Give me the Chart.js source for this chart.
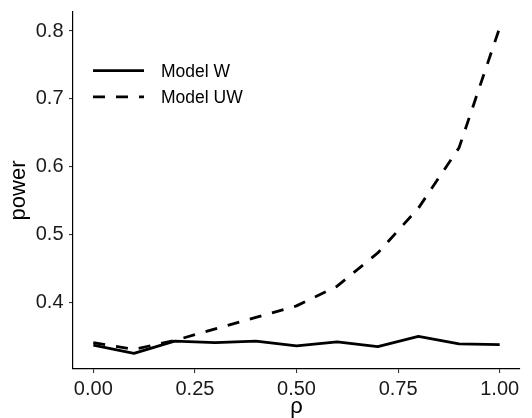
<!DOCTYPE html>
<html>
<head>
<meta charset="utf-8">
<script src="https://cdn.jsdelivr.net/npm/chart.js@4/dist/chart.umd.min.js"></script>
<style>
    html, body { margin: 0; padding: 0; background: #fff; }
    #wrap { width: 532px; height: 418px; }
</style>
</head>
<body>
<div id="wrap"><canvas id="powerChart" width="532" height="418"></canvas></div>
<script>
const rho = [0, 0.1, 0.2, 0.3, 0.4, 0.5, 0.6, 0.7, 0.8, 0.9, 1.0];
const powerW = [0.337, 0.325, 0.343, 0.341, 0.343, 0.336, 0.342, 0.335, 0.350, 0.339, 0.338];
const powerUW = [0.341, 0.331, 0.344, 0.361, 0.378, 0.395, 0.424, 0.473, 0.539, 0.628, 0.805];
const seriesNames = ['Model W', 'Model UW'];
const xTicks = [0, 0.25, 0.5, 0.75, 1.0];
const yTicks = [0.4, 0.5, 0.6, 0.7, 0.8];

const fontFamily = "'Liberation Sans', Arial, Helvetica, sans-serif";

const toPoints = (values) => rho.map((r, i) => ({ x: r, y: values[i] }));

// ggplot style legend inside the panel, top left
const insideLegend = {
    id: 'insideLegend',
    afterDraw: (chart) => {
        const ctx = chart.ctx;
        ctx.save();
        chart.data.datasets.forEach((ds, i) => {
            const y = 70.7 + i * 26.2;
            ctx.beginPath();
            ctx.lineWidth = ds.borderWidth;
            ctx.strokeStyle = ds.borderColor;
            ctx.lineCap = 'butt';
            ctx.setLineDash(ds.borderDash || []);
            ctx.moveTo(93, y);
            ctx.lineTo(144, y);
            ctx.stroke();
            ctx.setLineDash([]);
            ctx.fillStyle = '#000';
            ctx.font = `17.5px ${fontFamily}`;
            ctx.textBaseline = 'alphabetic';
            ctx.textAlign = 'left';
            ctx.fillText(ds.label, 161, y + 6.4);
        });
        ctx.restore();
    }
};

const ctx = document.getElementById('powerChart').getContext('2d');
new Chart(ctx, {
    type: 'line',
    data: {
        datasets: [{
            label: seriesNames[0],
            data: toPoints(powerW),
            borderColor: '#000',
            borderWidth: 2.8,
            borderJoinStyle: 'round',
            borderCapStyle: 'butt',
            pointRadius: 0,
            tension: 0,
            fill: false
        }, {
            label: seriesNames[1],
            data: toPoints(powerUW),
            borderColor: '#000',
            borderWidth: 2.8,
            borderDash: [12, 11],
            borderJoinStyle: 'round',
            borderCapStyle: 'butt',
            pointRadius: 0,
            tension: 0,
            fill: false
        }]
    },
    options: {
        responsive: false,
        animation: false,
        devicePixelRatio: 1,
        layout: { padding: { top: 12, right: 12, left: 0, bottom: 0 } },
        plugins: {
            legend: { display: false },
            tooltip: { enabled: false }
        },
        scales: {
            x: {
                type: 'linear',
                min: -0.05,
                max: 1.05,
                afterBuildTicks: (scale) => { scale.ticks = xTicks.map(v => ({ value: v })); },
                afterFit: (scale) => {
                    scale.height = 49;
                    scale.paddingLeft = 0;
                    scale.paddingRight = 0;
                },
                ticks: {
                    color: '#1a1a1a',
                    font: { family: fontFamily, size: 20 },
                    padding: 4,
                    maxRotation: 0,
                    callback: (v) => Number(v).toFixed(2)
                },
                grid: { display: true, drawOnChartArea: false, drawTicks: true, tickLength: 4, color: '#333', lineWidth: 1.1 },
                border: { display: true, color: '#000', width: 1.2 },
                title: {
                    display: true,
                    text: 'ρ',
                    color: '#000',
                    font: { family: fontFamily, size: 22, lineHeight: 1 },
                    padding: { top: 0, bottom: 0.5 }
                }
            },
            y: {
                type: 'linear',
                min: 0.302,
                max: 0.828,
                afterBuildTicks: (scale) => { scale.ticks = yTicks.map(v => ({ value: v })); },
                afterFit: (scale) => {
                    scale.width = 73;
                    scale.paddingTop = 0;
                    scale.paddingBottom = 0;
                },
                ticks: {
                    color: '#1a1a1a',
                    font: { family: fontFamily, size: 20 },
                    padding: 5.5,
                    callback: (v) => Number(v).toFixed(1)
                },
                grid: { display: true, drawOnChartArea: false, drawTicks: true, tickLength: 4, color: '#333', lineWidth: 1.1 },
                border: { display: true, color: '#000', width: 1.2 },
                title: {
                    display: true,
                    text: 'power',
                    color: '#000',
                    font: { family: fontFamily, size: 22, lineHeight: 1 },
                    padding: { top: 7.8, bottom: 0 }
                }
            }
        }
    },
    plugins: [insideLegend]
});
</script>
</body>
</html>
